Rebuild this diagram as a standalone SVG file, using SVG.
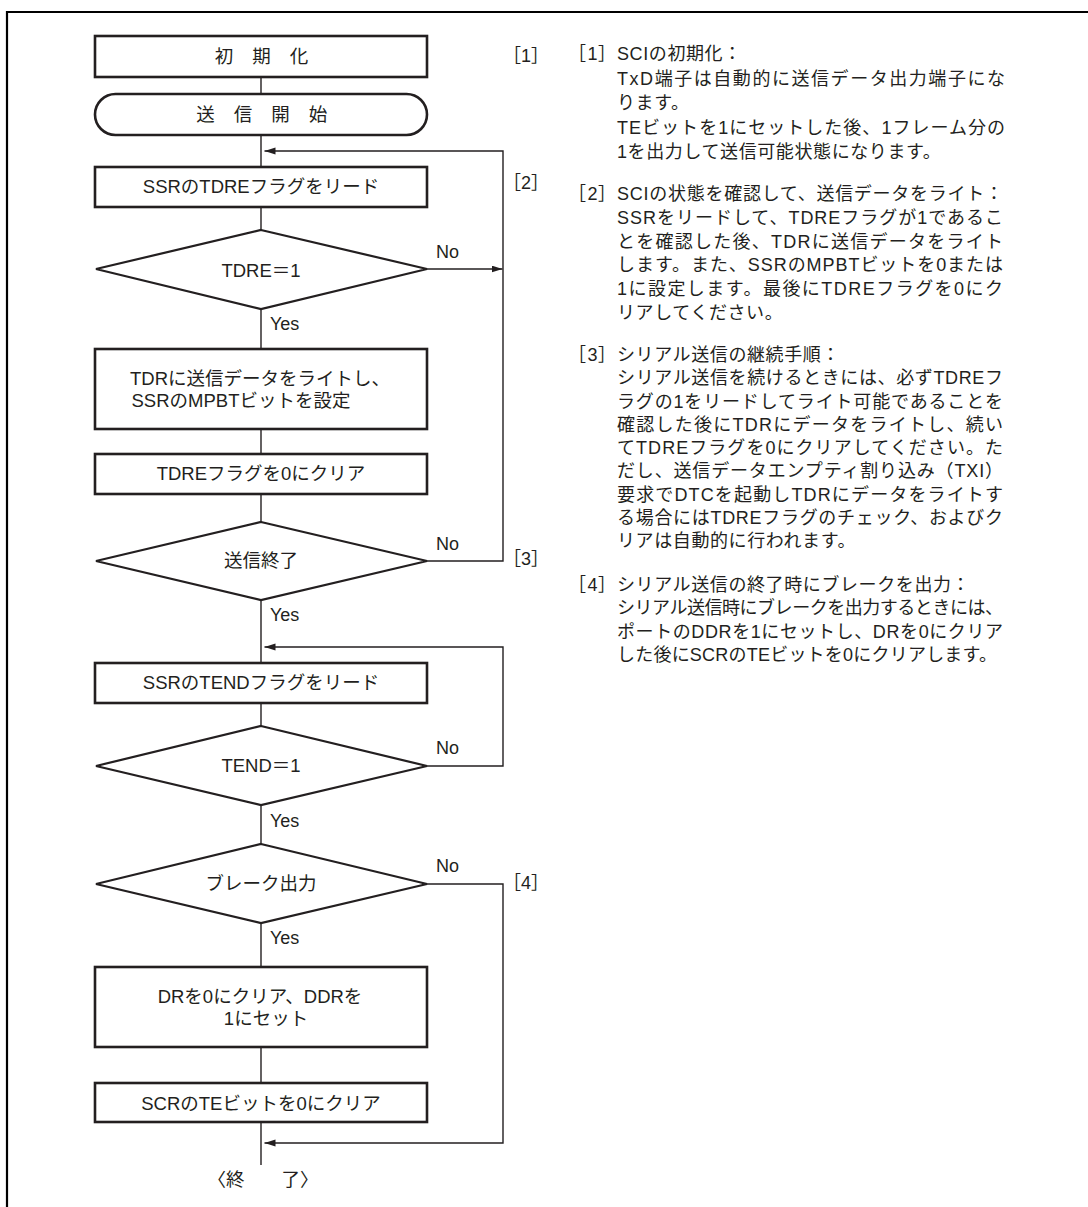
<svg xmlns="http://www.w3.org/2000/svg" width="1088" height="1207" viewBox="0 0 1088 1207">
<style>
text{font-family:'Liberation Sans','Noto Sans CJK JP',sans-serif;fill:#231f20;}
.f{font-size:18.5px;}
.c{text-anchor:middle;}
.lb{font-size:18px;}
.r{font-size:18px;}
.n{letter-spacing:0.6px;}
.box{fill:#fff;stroke:#231f20;stroke-width:2.6;}
.dia{fill:#fff;stroke:#231f20;stroke-width:2.2;}
.ln{fill:none;stroke:#231f20;stroke-width:1.4;}
</style>
<defs>
<marker id="ah" markerUnits="userSpaceOnUse" markerWidth="12" markerHeight="8" refX="11" refY="3.5" orient="auto">
<path d="M0,0 L11,3.5 L0,7 z" fill="#231f20"/>
</marker>
</defs>
<rect width="1088" height="1207" fill="#fff"/>
<path d="M7,1207 V12 H1088" fill="none" stroke="#000" stroke-width="2.2"/>

<g id="connectors">
<path class="ln" d="M261,77 V94"/>
<path class="ln" d="M261,135 V167"/>
<path class="ln" d="M261,207 V230"/>
<path class="ln" d="M261,309 V349"/>
<path class="ln" d="M261,429 V454"/>
<path class="ln" d="M261,494 V522"/>
<path class="ln" d="M261,600 V663"/>
<path class="ln" d="M261,703 V726"/>
<path class="ln" d="M261,805 V844"/>
<path class="ln" d="M261,923 V967"/>
<path class="ln" d="M261,1047 V1083"/>
<path class="ln" d="M261,1122 V1165"/>
<path class="ln" d="M427,269 H502.5" marker-end="url(#ah)"/>
<path class="ln" d="M427,561 H503 V151 H264.5" marker-end="url(#ah)"/>
<path class="ln" d="M427,766 H503 V647 H264.5" marker-end="url(#ah)"/>
<path class="ln" d="M427,884 H503 V1143 H264.5" marker-end="url(#ah)"/>
<text class="lb" x="436" y="258">No</text>
<text class="lb" x="436" y="549.5">No</text>
<text class="lb" x="436" y="754">No</text>
<text class="lb" x="436" y="872">No</text>
<text class="lb" x="270" y="330">Yes</text>
<text class="lb" x="270" y="621">Yes</text>
<text class="lb" x="270" y="826.5">Yes</text>
<text class="lb" x="270" y="944">Yes</text>
</g>

<g id="n1">
<rect class="box" x="95" y="36" width="332" height="41"/>
<text class="f c" x="224" y="62.5">初</text>
<text class="f c" x="261.5" y="62.5">期</text>
<text class="f c" x="299" y="62.5">化</text>
</g>
<g id="n2">
<rect class="box" x="95" y="94" width="332" height="41" rx="20.5" ry="20.5"/>
<text class="f c" x="205.5" y="121">送</text>
<text class="f c" x="243" y="121">信</text>
<text class="f c" x="280.5" y="121">開</text>
<text class="f c" x="318" y="121">始</text>
</g>
<g id="n3">
<rect class="box" x="95" y="167" width="332" height="40"/>
<text class="f c" x="261" y="193">SSRのTDREフラグをリード</text>
</g>
<g id="n4">
<polygon class="dia" points="261,230 427,269 261,309 96,269"/>
<text class="f c" x="261" y="277">TDRE＝1</text>
</g>
<g id="n5">
<rect class="box" x="95" y="349" width="332" height="80"/>
<text class="f" x="130" y="385">TDRに送信データをライトし、</text>
<text class="f" x="131.5" y="407">SSRのMPBTビットを設定</text>
</g>
<g id="n6">
<rect class="box" x="95" y="454" width="332" height="40"/>
<text class="f c" x="261" y="480">TDREフラグを0にクリア</text>
</g>
<g id="n7">
<polygon class="dia" points="261,522 427,561 261,600 96,561"/>
<text class="f c" x="261" y="567">送信終了</text>
</g>
<g id="n8">
<rect class="box" x="95" y="663" width="332" height="40"/>
<text class="f c" x="261" y="689">SSRのTENDフラグをリード</text>
</g>
<g id="n9">
<polygon class="dia" points="261,726 427,766 261,805 96,766"/>
<text class="f c" x="261" y="772">TEND＝1</text>
</g>
<g id="n10">
<polygon class="dia" points="261,844 427,884 261,923 96,884"/>
<text class="f c" x="261" y="890">ブレーク出力</text>
</g>
<g id="n11">
<rect class="box" x="95" y="967" width="332" height="80"/>
<text class="f c" x="260" y="1003">DRを0にクリア、DDRを</text>
<text class="f c" x="266" y="1025">1にセット</text>
</g>
<g id="n12">
<rect class="box" x="95" y="1083" width="332" height="39"/>
<text class="f c" x="261" y="1110">SCRのTEビットを0にクリア</text>
</g>
<g id="end">
<text class="f c" x="263" y="1186">〈終　　了〉</text>
</g>

<g id="steps">
<text class="lb" x="503" y="62">［1］</text>
<text class="lb" x="503" y="189">［2］</text>
<text class="lb" x="503" y="565">［3］</text>
<text class="lb" x="503" y="889">［4］</text>
</g>

<g id="notes">
<text class="r" x="568" y="60">［<tspan dx="1.5">1</tspan><tspan dx="0.5">］</tspan></text>
<text class="r n" x="617" y="60">SCIの初期化：</text>
<text class="r" x="617" y="84.5" textLength="388" lengthAdjust="spacing">TxD端子は自動的に送信データ出力端子にな</text>
<text class="r n" x="617" y="109">ります。</text>
<text class="r" x="617" y="133.5" textLength="388" lengthAdjust="spacing">TEビットを1にセットした後、1フレーム分の</text>
<text class="r n" x="617" y="158">1を出力して送信可能状態になります。</text>

<text class="r" x="568" y="200">［<tspan dx="1.5">2</tspan><tspan dx="0.5">］</tspan></text>
<text class="r" x="617" y="200" textLength="386" lengthAdjust="spacing">SCIの状態を確認して、送信データをライト：</text>
<text class="r" x="617" y="223.8" textLength="386" lengthAdjust="spacing">SSRをリードして、TDREフラグが1であるこ</text>
<text class="r" x="617" y="247.6" textLength="386" lengthAdjust="spacing">とを確認した後、TDRに送信データをライト</text>
<text class="r" x="617" y="271.4" textLength="386" lengthAdjust="spacing">します。また、SSRのMPBTビットを0または</text>
<text class="r" x="617" y="295.2" textLength="386" lengthAdjust="spacing">1に設定します。最後にTDREフラグを0にク</text>
<text class="r n" x="617" y="319">リアしてください。</text>

<text class="r" x="568" y="361">［<tspan dx="1.5">3</tspan><tspan dx="0.5">］</tspan></text>
<text class="r n" x="617" y="361">シリアル送信の継続手順：</text>
<text class="r" x="617" y="384.3" textLength="386" lengthAdjust="spacing">シリアル送信を続けるときには、必ずTDREフ</text>
<text class="r" x="617" y="407.5" textLength="386" lengthAdjust="spacing">ラグの1をリードしてライト可能であることを</text>
<text class="r" x="617" y="430.8" textLength="386" lengthAdjust="spacing">確認した後にTDRにデータをライトし、続い</text>
<text class="r" x="617" y="454" textLength="386" lengthAdjust="spacing">てTDREフラグを0にクリアしてください。た</text>
<text class="r" x="617" y="477.3" textLength="386" lengthAdjust="spacing">だし、送信データエンプティ割り込み（TXI）</text>
<text class="r" x="617" y="500.5" textLength="386" lengthAdjust="spacing">要求でDTCを起動しTDRにデータをライトす</text>
<text class="r" x="617" y="523.8" textLength="386" lengthAdjust="spacing">る場合にはTDREフラグのチェック、およびク</text>
<text class="r n" x="617" y="547">リアは自動的に行われます。</text>

<text class="r" x="568" y="591">［<tspan dx="1.5">4</tspan><tspan dx="0.5">］</tspan></text>
<text class="r n" x="617" y="591">シリアル送信の終了時にブレークを出力：</text>
<text class="r" x="617" y="614.3" textLength="386" lengthAdjust="spacing">シリアル送信時にブレークを出力するときには、</text>
<text class="r" x="617" y="637.7" textLength="386" lengthAdjust="spacing">ポートのDDRを1にセットし、DRを0にクリア</text>
<text class="r" x="617" y="661" textLength="380" lengthAdjust="spacing">した後にSCRのTEビットを0にクリアします。</text>
</g>
</svg>
